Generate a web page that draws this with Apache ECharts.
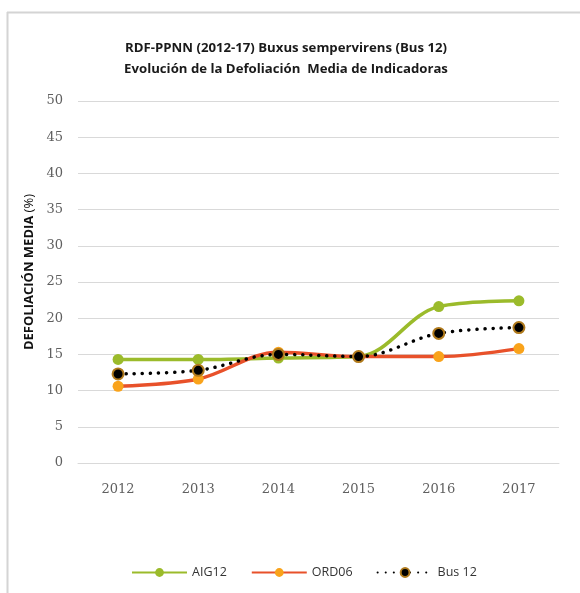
<!DOCTYPE html>
<html><head><meta charset="utf-8">
<script src="https://cdn.jsdelivr.net/npm/echarts@6/dist/echarts.min.js"></script>
<style>html,body{margin:0;padding:0;background:#fff}#c{width:580px;height:593px}</style>
</head><body><div id="c"></div>
<script>
const years = ['2012','2013','2014','2015','2016','2017'];
const aig12 = [14.3, 14.3, 14.5, 14.7, 21.6, 22.4];
const ord06 = [10.6, 11.6, 15.3, 14.7, 14.7, 15.8];
const bus12 = [12.3, 12.8, 15.0, 14.7, 17.9, 18.7];
const titleLines = ['RDF-PPNN (2012-17) Buxus sempervirens (Bus 12)', 'Evolución de la Defoliación  Media de Indicadoras'];

const chart = echarts.init(document.getElementById('c'));
chart.setOption({
  backgroundColor: '#fff',
  animation: false,
  graphic: [
    {type:'line', shape:{x1:7,y1:12.5,x2:580,y2:12.5}, style:{stroke:'#d4d4d4', lineWidth:2}},
    {type:'line', shape:{x1:7.5,y1:12,x2:7.5,y2:593}, style:{stroke:'#d4d4d4', lineWidth:2}}
  ],
  title: {
    text: titleLines.join('\n'),
    left: 281, top: 33, textAlign: 'center',
    textStyle: {fontFamily:'Open Sans', fontWeight:'bold', fontSize:13.2, color:'#1a1a1a', lineHeight:21}
  },
  grid: {left:78, right:21, top:101, bottom:130},
  legend: {
    bottom: 9, left: 126, itemWidth: 55, itemHeight: 11, itemGap: 24,
    textStyle: {fontFamily:'Open Sans', fontSize:12.5, color:'#333'},
    data: ['AIG12','ORD06','Bus 12']
  },
  xAxis: {
    type:'category', data: years, boundaryGap: true,
    axisLine: {show:true, lineStyle:{color:'#d9d9d9'}},
    axisTick: {show:false},
    axisLabel: {fontFamily:'DejaVu Serif', fontSize:13, color:'#606060', margin:20}
  },
  yAxis: {
    type:'value', min:0, max:50, interval:5,
    name: '{b|DEFOLIACIÓN MEDIA} {n|(%)}', nameLocation:'middle', nameGap:42, nameRotate:90,
    nameTextStyle: {padding:[0,0,0,20], rich:{b:{fontFamily:'Open Sans', fontWeight:'bold', fontSize:13, color:'#111'}, n:{fontFamily:'Open Sans', fontSize:13, color:'#111'}}},
    axisLine:{show:false}, axisTick:{show:false},
    splitLine:{lineStyle:{color:'#d9d9d9'}},
    axisLabel: {fontFamily:'DejaVu Serif', fontSize:13, color:'#606060', margin:15}
  },
  series: [
    {name:'AIG12', type:'line', data: aig12, smooth:0.35, symbol:'circle', symbolSize:11,
      lineStyle:{color:'#9bbb2b', width:3.5}, itemStyle:{color:'#9bbb2b'}},
    {name:'ORD06', type:'line', data: ord06, smooth:0.35, symbol:'circle', symbolSize:11,
      lineStyle:{color:'#e8512a', width:3.5}, itemStyle:{color:'#f9a31b'}},
    {name:'Bus 12', type:'line', data: bus12, smooth:0.35, symbol:'circle', symbolSize:11,
      lineStyle:{color:'#000', width:3.5, type:[0.1,8], cap:'round'},
      itemStyle:{color:'#000', borderColor:'#b07a1c', borderWidth:2}}
  ]
});
</script></body></html>
